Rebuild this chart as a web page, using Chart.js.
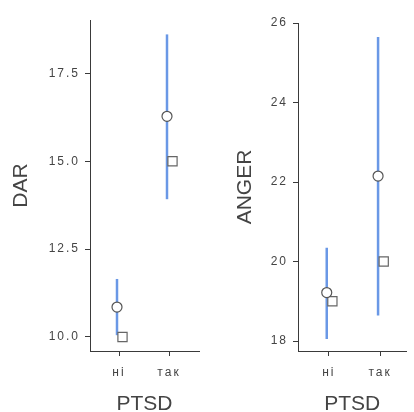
<!DOCTYPE html>
<html lang="uk">
<head>
  <meta charset="UTF-8" />
  <title>DAR / ANGER by PTSD</title>
  <script src="https://cdn.jsdelivr.net/npm/chart.js"></script>
  <style>
    html, body { margin: 0; padding: 0; background: #fff; overflow: hidden; }
    #wrap { display: flex; width: 414px; height: 412px; overflow: hidden; }
    .panel { width: 207px; height: 424px; }
  </style>
</head>
<body>
  <div id="wrap">
    <div class="panel"><canvas id="darChart" width="207" height="424"></canvas></div>
    <div class="panel"><canvas id="angerChart" width="207" height="424"></canvas></div>
  </div>

  <script>
    // groups on the x axis
    const groups = ["ні", "так"];

    // DAR: mean, CI limits, median
    const darMean   = [10.85, 16.28];
    const darLower  = [10.05, 13.92];
    const darUpper  = [11.65, 18.61];
    const darMedian = [10, 15];
    const darTicks  = [10, 12.5, 15, 17.5];

    // ANGER: mean, CI limits, median
    const angerMean   = [19.22, 22.15];
    const angerLower  = [18.05, 18.64];
    const angerUpper  = [20.35, 25.65];
    const angerMedian = [19, 20];
    const angerTicks  = [18, 20, 22, 24, 26];

    const FONT = "'Liberation Sans', Arial, sans-serif";
    const INK = "#3a3a3a";
    const BLUE = "#6a98e6";

    // chart.js has no letter-spacing option: tick labels get 2px, titles none
    const spacing = {
      id: "spacing",
      beforeLayout(chart) { chart.ctx.letterSpacing = "2px"; },
      beforeDraw(chart) {
        const ctx = chart.ctx;
        ctx.letterSpacing = "2px";
        Object.values(chart.scales).forEach(s => {
          if (s._patched) return;
          const orig = s.drawTitle;
          s.drawTitle = function () {
            ctx.letterSpacing = "0px";
            orig.apply(this, arguments);
            ctx.letterSpacing = "2px";
          };
          s._patched = true;
        });
      }
    };

    function makePanel(id, cfg) {
      const barData = groups.map((g, i) => ({
        data: [
          { x: i + 1 - 0.04, y: cfg.lower[i] },
          { x: i + 1 - 0.04, y: cfg.upper[i] }
        ],
        showLine: true,
        borderColor: BLUE,
        borderWidth: 2.5,
        pointRadius: 0,
        order: 2
      }));

      new Chart(document.getElementById(id), {
        type: "scatter",
        data: {
          datasets: [
            {
              data: cfg.mean.map((v, i) => ({ x: i + 1 - 0.04, y: v })),
              pointStyle: "circle",
              pointRadius: 5,
              pointBackgroundColor: "#fff",
              pointBorderColor: "#555",
              pointBorderWidth: 1.2,
              order: 0
            },
            {
              data: cfg.median.map((v, i) => ({ x: i + 1 + 0.07, y: v })),
              pointStyle: "rect",
              pointRadius: 6.5,
              pointBackgroundColor: "#fff",
              pointBorderColor: "#666",
              pointBorderWidth: 1.2,
              order: 1
            },
            ...barData
          ]
        },
        options: {
          responsive: false,
          animation: false,
          events: [],
          layout: { padding: { top: cfg.top, right: cfg.right, left: 0, bottom: 0 } },
          plugins: {
            legend: { display: false },
            tooltip: { enabled: false }
          },
          scales: {
            x: {
              type: "linear",
              min: cfg.xMin,
              max: cfg.xMax,
              afterBuildTicks: s => { s.ticks = groups.map((g, i) => ({ value: i + 1 })); },
              afterFit: s => { s.height = 73; },
              grid: { drawOnChartArea: false, tickLength: 5, color: INK },
              border: { color: INK, width: 1 },
              ticks: {
                padding: 9,
                color: "#444",
                font: { family: FONT, size: 12 },
                callback: v => groups[v - 1]
              },
              title: {
                display: true,
                text: "PTSD",
                color: "#444",
                font: { family: FONT, size: 21 },
                padding: { top: 0, bottom: 7 }
              }
            },
            y: {
              min: cfg.yMin,
              max: cfg.yMax,
              afterBuildTicks: s => { s.ticks = cfg.ticks.map(v => ({ value: v })); },
              afterFit: s => { s.width = cfg.axisX; },
              grid: { drawOnChartArea: false, tickLength: 5, color: INK },
              border: { color: INK, width: 1 },
              ticks: {
                padding: 5,
                color: "#444",
                font: { family: FONT, size: 12 },
                callback: cfg.fmt
              },
              title: {
                display: true,
                text: cfg.title,
                color: "#444",
                font: { family: FONT, size: 21 },
                padding: { top: cfg.titlePad, bottom: 0 }
              }
            }
          }
        },
        plugins: [spacing]
      });
    }

    makePanel("darChart", {
      title: "DAR",
      mean: darMean, lower: darLower, upper: darUpper, median: darMedian,
      ticks: darTicks,
      fmt: v => v.toFixed(1),
      yMin: 9.6, yMax: 19.02,
      xMin: 0.42, xMax: 2.6,
      top: 20, right: 8, axisX: 90, titlePad: 9
    });

    makePanel("angerChart", {
      title: "ANGER",
      mean: angerMean, lower: angerLower, upper: angerUpper, median: angerMedian,
      ticks: angerTicks,
      fmt: v => String(v),
      yMin: 17.75, yMax: 26,
      xMin: 0.4, xMax: 2.51,
      top: 23, right: 0, axisX: 91, titlePad: 26
    });
  </script>
</body>
</html>
